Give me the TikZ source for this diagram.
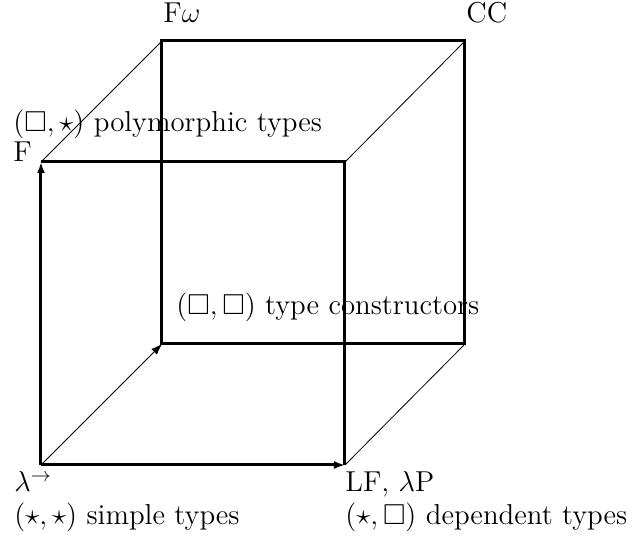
\documentclass[tikz,border=0pt]{standalone}
\usepackage{amssymb}
\usetikzlibrary{arrows.meta}
\tikzset{
  edge/.style={line width=1.5pt},
  diag/.style={line width=0.4pt},
  tip/.style={-{Latex[length=5.5pt,width=4pt]}},
  lbl/.style={anchor=base west, inner sep=0pt, font=\fontsize{14.4}{17}\selectfont}
}
\begin{document}
\begin{tikzpicture}[x=0.5pt,y=0.5pt]
    \useasboundingbox (0,0) rectangle (634,537);
    % corners of the cube
    \coordinate (stlc) at (41,72);
    \coordinate (lp) at (345,72);
    \coordinate (f) at (41,375);
    \coordinate (fp) at (345,375);
    \coordinate (lw) at (162,193);
    \coordinate (lpw) at (465,193);
    \coordinate (fw) at (162,496);
    \coordinate (cc) at (465,496);
    % back face
    \draw[edge] (lw) -- (lpw) -- (cc) -- (fw) -- cycle;
    % front face
    \draw[edge] (f) -- (fp) -- (lp);
    \draw[edge,tip] (stlc) -- (f);
    \draw[edge,tip] (stlc) -- (lp);
    % depth edges
    \draw[diag,tip] (stlc) -- (lw);
    \draw[diag] (f) -- (fw);
    \draw[diag] (fp) -- (cc);
    \draw[diag] (lp) -- (lpw);
    % labels
    \node[lbl] (nfw) at (163,514) {F$\omega$};
    \node[lbl] (ncc) at (466,514) {CC};
    \node[lbl] (npoly) at (13,405) {$(\Box,\star)$ polymorphic types};
    \node[lbl] (nf) at (13,375) {F};
    \node[lbl] (ncon) at (176,222) {$(\Box,\Box)$ type constructors};
    \node[lbl] (nstlc) at (14,45) {$\lambda^{\rightarrow}$};
    \node[lbl] (nsimple) at (14,12) {$(\star,\star)$ simple types};
    \node[lbl] (nlp) at (345,45) {LF, $\lambda$P};
    \node[lbl] (ndep) at (345,12) {$(\star,\Box)$ dependent types};
\end{tikzpicture}
\end{document}
